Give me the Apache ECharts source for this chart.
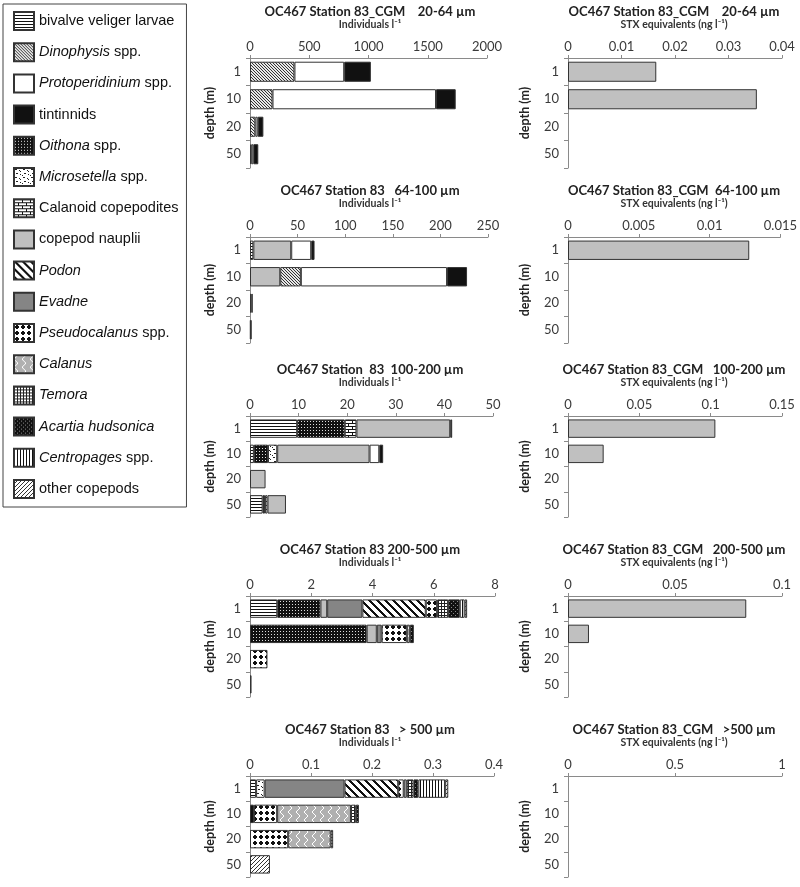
<!DOCTYPE html>
<html>
<head>
<meta charset="utf-8">
<script src="https://cdn.jsdelivr.net/npm/echarts@6/dist/echarts.min.js"></script>
<style>
  html, body { margin: 0; padding: 0; background: #fff; }
  #main { width: 800px; height: 887px; }
</style>
</head>
<body>
<div id="main"></div>
<script>
// depth categories (m)
var depths = ['1', '10', '20', '50'];

// panel titles, top to bottom
var leftTitles = ['OC467 Station 83_CGM    20-64 µm', 'OC467 Station 83   64-100 µm', 'OC467 Station  83  100-200 µm',
  'OC467 Station 83 200-500 µm', 'OC467 Station 83   > 500 µm'];
var rightTitles = ['OC467 Station 83_CGM    20-64 µm', 'OC467 Station 83_CGM  64-100 µm', 'OC467 Station 83_CGM   100-200 µm',
  'OC467 Station 83_CGM   200-500 µm', 'OC467 Station 83_CGM   >500 µm'];

// axis scales
var leftMax = [2000, 250, 50, 8, 0.4];
var leftStep = [500, 50, 10, 2, 0.1];
var rightMax = [0.04, 0.015, 0.15, 0.1, 1];
var rightStep = [0.01, 0.005, 0.05, 0.05, 0.5];

// individuals per litre: one row per size fraction, values for depth 1, 10, 20, 50
var bivalve        = [[0, 0, 0, 0], [3.5, 0, 0, 0], [9.7, 0.8, 0, 2.6], [0.89, 0, 0, 0], [0.01, 0, 0, 0]];
var dinophysis     = [[375, 190, 45, 10], [0, 21.6, 1.5, 0], [0, 0, 0, 0], [0, 0, 0, 0], [0, 0, 0, 0]];
var protoperid     = [[420, 1380, 20, 18], [21, 153.6, 0, 0.8], [0, 2.0, 0, 0], [0, 0, 0, 0], [0, 0, 0, 0]];
var tintinnids     = [[225, 166, 48, 42], [3.5, 21, 1.3, 0.6], [0.4, 0.8, 0, 0], [0, 0, 0, 0], [0, 0, 0, 0]];
var oithona        = [[0, 0, 0, 0], [0, 0, 0, 0], [9.8, 2.9, 0, 0.5], [1.41, 3.81, 0, 0], [0, 0.0065, 0, 0]];
var microsetella   = [[0, 0, 0, 0], [0, 0, 0, 0], [0, 1.9, 0, 0.5], [0, 0, 0, 0], [0.014, 0, 0, 0]];
var calanoid       = [[0, 0, 0, 0], [0, 0, 0, 0], [2.4, 0, 0, 0], [0, 0, 0, 0], [0, 0, 0, 0]];
var nauplii        = [[0, 0, 0, 0], [39.8, 31.8, 0, 0], [19.3, 19.0, 3.2, 3.8], [0.22, 0.33, 0, 0], [0, 0, 0, 0]];
var podon          = [[0, 0, 0, 0], [0, 0, 0, 0], [0, 0, 0, 0], [2.07, 0, 0, 0], [0.088, 0, 0, 0]];
var evadne         = [[0, 0, 0, 0], [0, 0, 0, 0], [0, 0, 0, 0], [1.15, 0.16, 0, 0], [0.131, 0, 0, 0]];
var pseudocalanus  = [[0, 0, 0, 0], [0, 0, 0, 0], [0, 0, 0, 0], [0.37, 0.82, 0.57, 0], [0.009, 0.038, 0.0626, 0]];
var calanus        = [[0, 0, 0, 0], [0, 0, 0, 0], [0, 0, 0, 0], [0, 0.1, 0, 0], [0.005, 0.121, 0.0697, 0]];
var temora         = [[0, 0, 0, 0], [0, 0, 0, 0], [0, 0, 0, 0], [0.36, 0, 0, 0], [0.011, 0.008, 0.004, 0]];
var acartia        = [[0, 0, 0, 0], [0, 0, 0, 0], [0, 0, 0, 0], [0.38, 0.13, 0, 0.05], [0.008, 0.005, 0, 0]];
var centropages    = [[0, 0, 0, 0], [0, 0, 0, 0], [0, 0, 0, 0], [0.16, 0, 0, 0], [0.044, 0, 0, 0]];
var otherCopepods  = [[0, 0, 0, 0], [0, 0, 0, 0], [0, 0, 0, 0], [0.08, 0, 0, 0], [0.005, 0, 0, 0.0327]];

// STX equivalents (ng/l), rows = size fraction
var stx = [[0.0165, 0.0353, 0, 0], [0.0128, 0, 0, 0], [0.1033, 0.025, 0, 0], [0.0833, 0.0098, 0, 0], [0, 0, 0, 0]];

// ---- fill patterns ----
function pat(w, h, bg, fg, pts) {
  var c = document.createElement('canvas');
  c.width = w; c.height = h;
  var ctx = c.getContext('2d');
  ctx.fillStyle = bg; ctx.fillRect(0, 0, w, h);
  ctx.fillStyle = fg;
  pts.forEach(function (p) { ctx.fillRect(p[0], p[1], p[2] || 1, p[3] || 1); });
  return { image: c, repeat: 'repeat' };
}
function diag(n, width, back) {
  var pts = [];
  for (var y = 0; y < n; y++) for (var k = 0; k < width; k++) {
    var x = back ? (y + k) % n : (n - 1 - y + k) % n;
    pts.push([x, y]);
  }
  return pts;
}
var patterns = {
  bivalve: pat(4, 3, '#fff', '#111', [[0, 0, 4, 1]]),
  dinophysis: pat(3, 3, '#e8e8e8', '#333', diag(3, 1, true)),
  protoperid: '#ffffff',
  tintinnids: '#111111',
  oithona: pat(3, 3, '#111', '#ddd', [[1, 1]]),
  microsetella: pat(8, 8, '#fff', '#222', [[1, 1, 2, 1], [5, 2], [6, 3], [2, 5], [3, 5], [6, 6], [0, 7]]),
  calanoid: pat(8, 6, '#fff', '#111', [[0, 0, 8, 1], [0, 3, 8, 1], [0, 1, 1, 2], [4, 4, 1, 2]]),
  nauplii: '#bfbfbf',
  podon: pat(8, 8, '#fff', '#111', diag(8, 3, true)),
  evadne: '#858585',
  pseudocalanus: pat(6, 6, '#fff', '#111', [[2, 1, 2, 4], [1, 2, 4, 2]]),
  calanus: (function () {
    var pts = [];
    for (var x = 0; x < 8; x++) for (var y = 0; y < 8; y++) {
      if ((y < 4 && (x + y) % 8 === 3) || (y >= 4 && ((x - y) % 8 + 8) % 8 === 4)) pts.push([x, y]);
    }
    return pat(8, 8, '#b0b0b0', '#fff', pts);
  })(),
  temora: pat(3, 3, '#fff', '#222', [[0, 0, 3, 1], [0, 0, 1, 3]]),
  acartia: pat(4, 4, '#111', '#888', [[1, 1], [3, 3]]),
  centropages: pat(3, 1, '#fff', '#111', [[0, 0]]),
  otherCopepods: pat(4, 4, '#fff', '#333', diag(4, 1, false))
};

// legend order (as printed) and stacking order (left to right in the bars)
var species = [
  { key: 'bivalve', name: 'bivalve veliger larvae', label: 'bivalve veliger larvae', data: bivalve },
  { key: 'dinophysis', name: 'Dinophysis spp.', label: '{i|Dinophysis} spp.', data: dinophysis },
  { key: 'protoperid', name: 'Protoperidinium spp.', label: '{i|Protoperidinium} spp.', data: protoperid },
  { key: 'tintinnids', name: 'tintinnids', label: 'tintinnids', data: tintinnids },
  { key: 'oithona', name: 'Oithona spp.', label: '{i|Oithona} spp.', data: oithona },
  { key: 'microsetella', name: 'Microsetella spp.', label: '{i|Microsetella} spp.', data: microsetella },
  { key: 'calanoid', name: 'Calanoid copepodites', label: 'Calanoid copepodites', data: calanoid },
  { key: 'nauplii', name: 'copepod nauplii', label: 'copepod nauplii', data: nauplii },
  { key: 'podon', name: 'Podon', label: '{i|Podon}', data: podon },
  { key: 'evadne', name: 'Evadne', label: '{i|Evadne}', data: evadne },
  { key: 'pseudocalanus', name: 'Pseudocalanus spp.', label: '{i|Pseudocalanus} spp.', data: pseudocalanus },
  { key: 'calanus', name: 'Calanus', label: '{i|Calanus}', data: calanus },
  { key: 'temora', name: 'Temora', label: '{i|Temora}', data: temora },
  { key: 'acartia', name: 'Acartia hudsonica', label: '{i|Acartia hudsonica}', data: acartia },
  { key: 'centropages', name: 'Centropages spp.', label: '{i|Centropages} spp.', data: centropages },
  { key: 'otherCopepods', name: 'other copepods', label: 'other copepods', data: otherCopepods }
];
var stackOrder = ['bivalve', 'oithona', 'microsetella', 'calanoid', 'nauplii', 'evadne', 'podon', 'pseudocalanus',
  'calanus', 'temora', 'acartia', 'centropages', 'otherCopepods', 'dinophysis', 'protoperid', 'tintinnids'];

// layout of the 5 rows
var axisTop = [58, 237, 416, 596, 776];
var gridH = [110, 106, 101, 101, 101];
var leftW = [237, 238, 243, 245, 244];

var FONT = 'Lato, "Open Sans", sans-serif';
var LFONT = '"Liberation Sans", Arial, sans-serif';
var byKey = {};
species.forEach(function (s) { byKey[s.key] = s; });
var labelMap = {};
species.forEach(function (s) { labelMap[s.name] = s.label; });

var grids = [], xAxes = [], yAxes = [], series = [], titles = [];

function plain(v) { return String(+v.toFixed(6)); }

function addPanel(idx, left, width, max, step, row, titleText, subText, titleX, nameGap) {
  grids.push({ left: left, top: axisTop[row], width: width, height: gridH[row] });
  xAxes.push({
    type: 'value', gridIndex: idx, position: 'top', min: 0, max: max, interval: step,
    axisLine: { show: true, lineStyle: { color: '#8a8a8a', width: 1 } },
    axisTick: { show: true, length: 3, lineStyle: { color: '#8a8a8a' } },
    splitLine: { show: false },
    axisLabel: { color: '#3a3a3a', fontSize: 13, fontFamily: FONT, margin: 5, formatter: plain }
  });
  yAxes.push({
    type: 'category', gridIndex: idx, data: depths, inverse: true,
    axisLine: { show: true, lineStyle: { color: '#8a8a8a', width: 1 } },
    axisTick: { show: true, length: 4, lineStyle: { color: '#8a8a8a' } },
    axisLabel: { color: '#3a3a3a', fontSize: 13, fontFamily: FONT, margin: 9 },
    name: 'depth (m)', nameLocation: 'middle', nameRotate: 90, nameGap: nameGap,
    nameTextStyle: { fontWeight: 'bold', fontSize: 12.5, color: '#222', fontFamily: FONT }
  });
  titles.push({
    text: titleText, left: titleX, top: axisTop[row] - 46, padding: 0,
    textAlign: 'center', textVerticalAlign: 'middle',
    textStyle: { fontSize: 13, fontWeight: 'bold', color: '#222', fontFamily: FONT }
  });
  titles.push({
    text: subText, left: titleX, top: axisTop[row] - 33, padding: 0,
    textAlign: 'center', textVerticalAlign: 'middle',
    textStyle: { fontSize: 10.5, fontWeight: 'bold', color: '#333', fontFamily: FONT }
  });
}

function nz(v) { return v === 0 ? '-' : v; }

for (var r = 0; r < 5; r++) {
  var li = r * 2, ri = r * 2 + 1;
  addPanel(li, 250, leftW[r], leftMax[r], leftStep[r], r, leftTitles[r], 'Individuals l⁻¹', 370, 34);
  addPanel(ri, 568, 214, rightMax[r], rightStep[r], r, rightTitles[r], 'STX equivalents (ng l⁻¹)', 674, 37);
  stackOrder.forEach(function (k) {
    var s = byKey[k];
    series.push({
      type: 'bar', name: s.name, xAxisIndex: li, yAxisIndex: li, stack: 'ind' + r,
      barCategoryGap: '27%',
      itemStyle: { color: patterns[k], borderColor: '#333', borderWidth: 1 },
      emphasis: { disabled: true },
      data: s.data[r].map(nz)
    });
  });
  series.push({
    type: 'bar', name: 'STX', xAxisIndex: ri, yAxisIndex: ri,
    barCategoryGap: '27%',
    itemStyle: { color: '#c0c0c0', borderColor: '#333', borderWidth: 1 },
    emphasis: { disabled: true },
    data: stx[r].map(nz)
  });
}

var chart = echarts.init(document.getElementById('main'));
chart.setOption({
  animation: false,
  backgroundColor: '#fff',
  title: titles,
  legend: {
    data: species.map(function (s) { return s.name; }),
    orient: 'vertical', left: 3, top: 4,
    padding: [7, 8, 8, 10],
    itemWidth: 20, itemHeight: 18, itemGap: 11.2,
    icon: 'rect', selectedMode: false,
    borderColor: '#444', borderWidth: 1,
    formatter: function (name) { return labelMap[name]; },
    textStyle: {
      fontSize: 14.5, lineHeight: 18, color: '#111', fontFamily: LFONT,
      rich: { i: { fontStyle: 'italic', fontSize: 14.5, lineHeight: 18, color: '#111', fontFamily: LFONT } }
    }
  },
  grid: grids,
  xAxis: xAxes,
  yAxis: yAxes,
  series: series
});
</script>
</body>
</html>
